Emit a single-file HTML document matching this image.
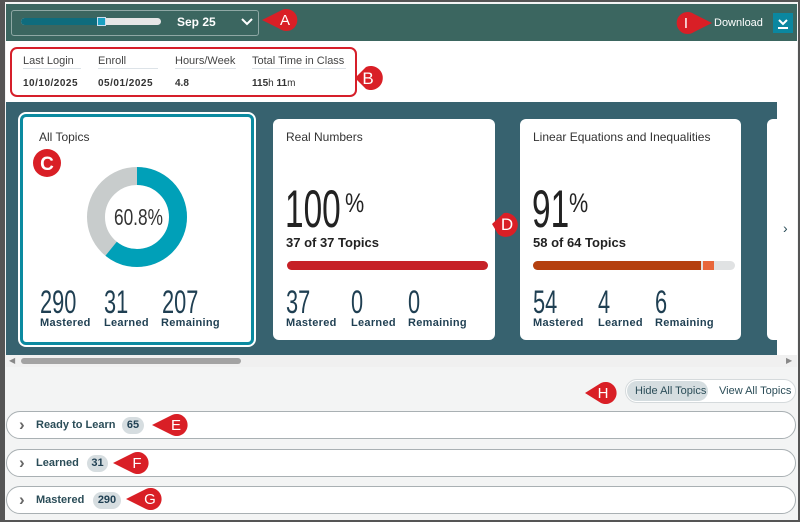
<!DOCTYPE html>
<html><head><meta charset="utf-8"><style>
*{margin:0;padding:0;box-sizing:border-box}
body{width:800px;height:522px;overflow:hidden;background:#555;font-family:"Liberation Sans",sans-serif;position:relative}
.a{position:absolute}
.nar{font-family:"Liberation Sans",sans-serif;font-weight:normal;transform-origin:0 0;white-space:nowrap}
.card{position:absolute;background:#fff;border-radius:6px}
.t{font-size:12px;color:#333}
.big{font-size:53px;color:#222;line-height:1;transform:scaleX(0.63)}
.pct{position:absolute;font-size:27px;color:#222;transform:scaleX(0.8);transform-origin:0 0}
.num{font-size:32px;color:#1f3f52;line-height:1;transform:scaleX(0.68)}
.lab{font-size:11px;font-weight:bold;color:#1f3f52;letter-spacing:.3px}
.row{position:absolute;left:6px;width:790px;height:28px;border:1px solid #a9b0b3;border-radius:14px;background:#fff}
.row .ch{position:absolute;left:12px;top:3px;font-size:17px;color:#666;font-weight:bold}
.row .tx{position:absolute;left:29px;top:7px;font-size:11px;font-weight:bold;color:#2b4d58}
.badge{position:absolute;top:5px;height:17px;border-radius:9px;background:#d6dde0;font-size:11px;font-weight:bold;color:#1f3f52;text-align:center;line-height:17px}
</style></head><body>
<div class="a" style="left:5px;top:2px;width:793px;height:518px;background:#f3f4f4"></div>
<div class="a" style="left:6px;top:4px;width:791px;height:37px;background:#3b6660"></div>
<div class="a" style="left:6px;top:41px;width:791px;height:61px;background:#fff"></div>
<div class="a" style="left:11px;top:10px;width:248px;height:26px;border:1px solid #8fa8a5;border-radius:3px"></div>
<div class="a" style="left:21px;top:18px;width:140px;height:7px;border-radius:4px;background:#e6e6e6"></div>
<div class="a" style="left:21px;top:18px;width:76px;height:7px;border-radius:4px 0 0 4px;background:#0f6c7d"></div>
<div class="a" style="left:97px;top:17px;width:9px;height:9px;background:#1aa0c0;border:1px solid #cde"></div>
<div class="a" style="left:177px;top:15px;font-size:12px;font-weight:bold;color:#fff">Sep 25</div>
<svg class="a" style="left:241px;top:18px" width="12" height="8"><path d="M1 1 L6 6 L11 1" stroke="#fff" stroke-width="2" fill="none"/></svg>
<div class="a" style="left:714px;top:17px;font-size:11px;color:#fff">Download</div>
<div class="a" style="left:773px;top:13px;width:20px;height:20px;background:#0b87a0"></div>
<svg class="a" style="left:773px;top:13px" width="20" height="20"><path d="M6 7 L10 11 L14 7" stroke="#fff" stroke-width="2" fill="none"/><path d="M5 15 H15" stroke="#fff" stroke-width="2"/></svg>
<div class="a" style="left:10px;top:47px;width:347px;height:50px;border:2px solid #d61f2a;border-radius:7px"></div>
<div class="a" style="left:23px;top:55px;font-size:11px;color:#444">Last Login</div>
<div class="a" style="left:98px;top:55px;font-size:11px;color:#444">Enroll</div>
<div class="a" style="left:175px;top:55px;font-size:11px;color:#444">Hours/Week</div>
<div class="a" style="left:252px;top:55px;font-size:11px;color:#444">Total Time in Class</div>
<div class="a" style="left:23px;top:68px;width:58px;height:1px;background:#dde3e8"></div>
<div class="a" style="left:98px;top:68px;width:60px;height:1px;background:#dde3e8"></div>
<div class="a" style="left:175px;top:68px;width:61px;height:1px;background:#dde3e8"></div>
<div class="a" style="left:252px;top:68px;width:94px;height:1px;background:#dde3e8"></div>
<div class="a" style="left:23px;top:78px;font-size:10px;font-weight:bold;color:#333;letter-spacing:.5px">10/10/2025</div>
<div class="a" style="left:98px;top:78px;font-size:10px;font-weight:bold;color:#333;letter-spacing:.5px">05/01/2025</div>
<div class="a" style="left:175px;top:78px;font-size:10px;font-weight:bold;color:#333">4.8</div>
<div class="a" style="left:252px;top:78px;font-size:10px;color:#333"><b>115</b>h <b>11</b>m</div>
<div class="a" style="left:6px;top:102px;width:771px;height:253px;background:#37626f"></div>
<div class="a" style="left:777px;top:102px;width:20px;height:253px;background:#fff"></div>
<div class="card" style="left:20px;top:114px;width:234px;height:231px;border:3px solid #0b8aa0;box-shadow:0 0 0 2px #fff"></div>
<div class="a t" style="left:39px;top:130px">All Topics</div>
<svg class="a" style="left:86px;top:166px" width="102" height="102"><circle cx="51" cy="51" r="41" fill="none" stroke="#c8cccc" stroke-width="18"/><circle cx="51" cy="51" r="41" fill="none" stroke="#00a0b8" stroke-width="18" stroke-dasharray="156.6 300" transform="rotate(-90 51 51)"/></svg>
<div class="a nar" style="left:114px;top:204px;font-size:23px;color:#333;transform:scaleX(0.75)">60.8%</div>
<div class="a nar num" style="left:40px;top:286px">290</div>
<div class="a nar num" style="left:104px;top:286px">31</div>
<div class="a nar num" style="left:162px;top:286px">207</div>
<div class="a lab" style="left:40px;top:317px">Mastered</div>
<div class="a lab" style="left:104px;top:317px">Learned</div>
<div class="a lab" style="left:161px;top:317px">Remaining</div>
<div class="card" style="left:273px;top:119px;width:222px;height:221px"></div>
<div class="a t" style="left:286px;top:130px">Real Numbers</div>
<div class="a nar big" style="left:285px;top:183px">100</div>
<div class="pct" style="left:345px;top:188px">%</div>
<div class="a" style="left:286px;top:235px;font-size:13px;font-weight:bold;color:#222">37 of 37 Topics</div>
<div class="a" style="left:287px;top:261px;width:201px;height:9px;border-radius:5px;background:#c62127"></div>
<div class="a nar num" style="left:286px;top:286px">37</div>
<div class="a nar num" style="left:351px;top:286px">0</div>
<div class="a nar num" style="left:408px;top:286px">0</div>
<div class="a lab" style="left:286px;top:317px">Mastered</div>
<div class="a lab" style="left:351px;top:317px">Learned</div>
<div class="a lab" style="left:408px;top:317px">Remaining</div>
<div class="card" style="left:520px;top:119px;width:221px;height:221px"></div>
<div class="a t" style="left:533px;top:130px">Linear Equations and Inequalities</div>
<div class="a nar big" style="left:532px;top:183px">91</div>
<div class="pct" style="left:569px;top:188px">%</div>
<div class="a" style="left:533px;top:235px;font-size:13px;font-weight:bold;color:#222">58 of 64 Topics</div>
<div class="a" style="left:533px;top:261px;width:202px;height:9px;border-radius:5px;background:#e0e2e3"></div>
<div class="a" style="left:533px;top:261px;width:168px;height:9px;border-radius:5px 0 0 5px;background:#b5400f"></div>
<div class="a" style="left:703px;top:261px;width:11px;height:9px;background:#e8663a"></div>
<div class="a nar num" style="left:533px;top:286px">54</div>
<div class="a nar num" style="left:598px;top:286px">4</div>
<div class="a nar num" style="left:655px;top:286px">6</div>
<div class="a lab" style="left:533px;top:317px">Mastered</div>
<div class="a lab" style="left:598px;top:317px">Learned</div>
<div class="a lab" style="left:655px;top:317px">Remaining</div>
<div class="card" style="left:767px;top:119px;width:30px;height:221px;border-radius:6px 0 0 6px"></div>
<div class="a" style="left:783px;top:220px;font-size:14px;color:#2b4d58">&#8250;</div>
<div class="a" style="left:6px;top:355px;width:791px;height:12px;background:#f0f0f0"></div>
<div class="a" style="left:21px;top:358px;width:220px;height:6px;border-radius:3px;background:#a3a3a3"></div>
<div class="a" style="left:9px;top:356px;font-size:8px;color:#888">&#9664;</div>
<div class="a" style="left:786px;top:356px;font-size:8px;color:#888">&#9654;</div>
<div class="a" style="left:625px;top:379px;width:171px;height:24px;border:1px solid #d5dadc;border-radius:12px;background:#fff"></div>
<div class="a" style="left:627px;top:381px;width:81px;height:20px;border-radius:10px;background:#d5dde0"></div>
<div class="a" style="left:635px;top:385px;font-size:11px;color:#2b4d58">Hide All Topics</div>
<div class="a" style="left:719px;top:385px;font-size:11px;color:#2b4d58">View All Topics</div>
<div class="row" style="top:411px"><span class="ch">&#8250;</span><span class="tx">Ready to Learn</span><span class="badge" style="left:115px;width:22px">65</span></div>
<div class="row" style="top:449px"><span class="ch">&#8250;</span><span class="tx">Learned</span><span class="badge" style="left:80px;width:21px">31</span></div>
<div class="row" style="top:486px"><span class="ch">&#8250;</span><span class="tx">Mastered</span><span class="badge" style="left:86px;width:28px">290</span></div>
<svg class="a" style="left:0;top:0" width="800" height="522" font-family="Liberation Sans,sans-serif" font-size="15" fill="#fff" text-anchor="middle">
<g fill="#d91f26">
<path d="M262 20 L280 11 A11 11 0 1 1 280 29 Z"/>
<path d="M712 23 L694 14 A11 11 0 1 0 694 32 Z"/>
<path d="M355 78 L366 67 A12 12 0 1 1 366 89 Z"/>
<circle cx="47" cy="163" r="14"/>
<path d="M492 224 L504 213 A12 12 0 1 1 498 234 Z"/>
<path d="M585 393 L601 383 A11 11 0 1 1 601 403 Z"/>
<path d="M152 425 L172 415 A11 11 0 1 1 172 435 Z"/>
<path d="M113 463 L133 453 A11 11 0 1 1 133 473 Z"/>
<path d="M126 499 L146 489 A11 11 0 1 1 146 509 Z"/>
</g>
<text x="285" y="25">A</text><text x="686" y="28">I</text><text x="368" y="84" font-size="17">B</text>
<text x="47" y="170" font-size="19" font-weight="bold">C</text><text x="507" y="230" font-size="17">D</text>
<text x="603" y="398">H</text><text x="176" y="430">E</text><text x="137" y="468">F</text><text x="150" y="504">G</text>
</svg>
</body></html>
